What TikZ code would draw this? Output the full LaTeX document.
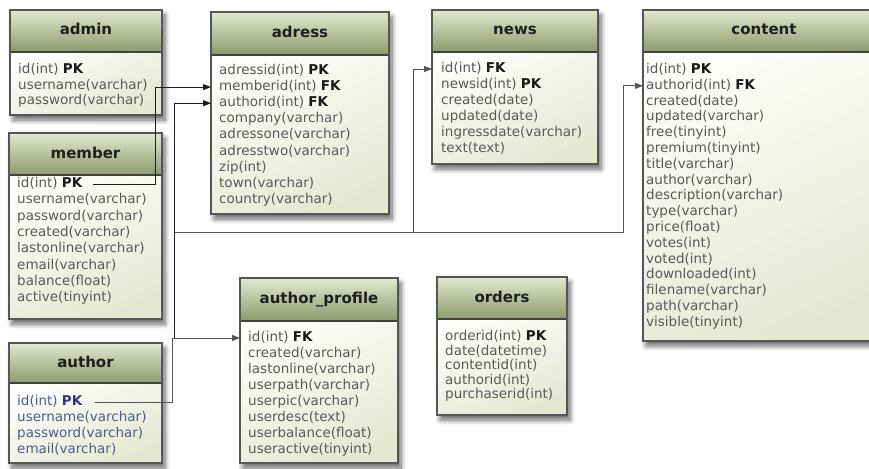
\documentclass[tikz,border=0pt]{standalone}
\usepackage{fontspec}
\setmainfont{DejaVu Sans}
\usetikzlibrary{arrows.meta,shadows.blur,calc}

\definecolor{hdtop}{HTML}{E2E9CF}
\definecolor{hdbot}{HTML}{8C9A6B}
\definecolor{bdtop}{HTML}{FDFDF9}
\definecolor{bdbot}{HTML}{E3E8D0}
\definecolor{framecol}{HTML}{565656}
\definecolor{fieldcol}{HTML}{5A5A5A}
\definecolor{authcol}{HTML}{4E5D8E}
\definecolor{authkey}{HTML}{2A3A7C}
\definecolor{wirecol}{HTML}{1E1E1E}
\definecolor{wiregray}{HTML}{555555}

% bold key markers inside a field line
\newcommand{\keyfield}[1]{\textbf{\color{black!90}#1}}
\newcommand{\authkeyfield}[1]{\textbf{\color{authkey}#1}}

\tikzset{
  tableframe/.style={draw=none, fill=white, inner sep=0pt, outer sep=0pt,
    anchor=north west,
    blur shadow={shadow xshift=3pt, shadow yshift=-5pt, shadow blur radius=5pt,
      shadow blur steps=8, shadow opacity=60}},
  headshade/.style={top color=hdtop, bottom color=hdbot},
  bodyshade/.style={top color=bdtop, bottom color=bdbot, shading angle=25},
  sepline/.style={draw=black!75, line width=1.4pt},
  borderline/.style={draw=framecol, line width=1.1pt},
  titletext/.style={inner sep=0pt, text height=11pt, text depth=3pt,
    font=\bfseries\fontsize{15}{18}\selectfont, text=black!88},
  rowstyle/.style={anchor=west, inner sep=0pt, text height=10pt, text depth=3pt,
    font=\fontsize{13.5}{16}\selectfont},
  wire/.style={draw=wirecol, line width=0.9pt, -{Triangle[length=8pt,width=6pt]}},
  wirelight/.style={draw=wiregray, line width=0.9pt, -{Triangle[length=8pt,width=6pt]}},
}

% table: name, left, top, right, header bottom, bottom, title
\newcommand{\dbtable}[7]{%
  \node[tableframe, minimum width={#4-#2}, minimum height={#6-#3}] (#1) at (#2,-#3) {};
  \fill[headshade] (#2,-#3) rectangle (#4,-#5);
  \fill[bodyshade] (#2,-#5) rectangle (#4,-#6);
  \draw[sepline] (#2,-#5) -- (#4,-#5);
  \draw[borderline] (#1.north west) rectangle (#1.south east);
  \node[titletext] (#1-title) at ({(#2+#4)/2},{-(#3+#5)/2}) {#7};
}

% field lines: name, left, first centre, pitch, colour, fields
\newcommand{\dbrows}[6]{%
  \foreach \rowtext [count=\ri] in {#6}{
    \node[rowstyle, text=#5] (#1-\ri) at ({#2},{-(#3+(\ri-1)*#4)}) {\rowtext};
  }
}

\begin{document}
\begin{tikzpicture}[x=1pt, y=1pt]
\useasboundingbox (0,0) rectangle (869,-468);

\dbtable{admin}{10}{10}{162}{52}{115}{admin}
\dbrows{admin}{18}{70}{15.6}{fieldcol}{id(int) \keyfield{PK}, username(varchar), password(varchar)}

\dbtable{member}{9}{133}{162}{175}{319}{member}
\dbrows{member}{17}{184}{16.3}{fieldcol}{id(int) \keyfield{PK}, username(varchar), password(varchar), created(varchar), lastonline(varchar), email(varchar), balance(float), active(tinyint)}

\dbtable{author}{9}{343}{162}{383}{463}{author}
\dbrows{author}{17}{402}{16}{authcol}{id(int) \authkeyfield{PK}, username(varchar), password(varchar), email(varchar)}

\dbtable{adress}{211}{12}{389}{55}{214}{adress}
\dbrows{adress}{219}{71}{16.1}{fieldcol}{adressid(int) \keyfield{PK}, memberid(int) \keyfield{FK}, authorid(int) \keyfield{FK}, company(varchar), adressone(varchar), adresstwo(varchar), zip(int), town(varchar), country(varchar)}

\dbtable{news}{432}{10}{598}{52}{164}{news}
\dbrows{news}{441}{69}{16}{fieldcol}{id(int) \keyfield{FK}, newsid(int) \keyfield{PK}, created(date), updated(date), ingressdate(varchar), text(text)}

\dbtable{content}{643}{10}{885}{52}{341}{content}
\dbrows{content}{646}{70}{15.8}{fieldcol}{id(int) \keyfield{PK}, authorid(int) \keyfield{FK}, created(date), updated(varchar), free(tinyint), premium(tinyint), title(varchar), author(varchar), description(varchar), type(varchar), price(float), votes(int), voted(int), downloaded(int), filename(varchar), path(varchar), visible(tinyint)}

\dbtable{ap}{240}{278}{398}{321}{463}{author\_profile}
\dbrows{ap}{248}{338}{16}{fieldcol}{id(int) \keyfield{FK}, created(varchar), lastonline(varchar), userpath(varchar), userpic(varchar), userdesc(text), userbalance(float), useractive(tinyint)}

\dbtable{orders}{437}{277}{567}{319}{415}{orders}
\dbrows{orders}{445}{337}{14.5}{fieldcol}{orderid(int) \keyfield{PK}, date(datetime), contentid(int), authorid(int), purchaserid(int)}

% routing columns and the shared bus line
\coordinate (tM) at (155,0);
\coordinate (tA) at (172,0);
\coordinate (tB) at (174.5,0);
\coordinate (tC) at (413,0);
\coordinate (tD) at (623,0);
\coordinate (busY) at (0,-232);

% member.id -> adress.memberid
\draw[wire] ([xshift=10pt]member-1.east) -- (member-1 -| tM) |- (adress.west |- adress-2);

% author.id -> author_profile.id
\draw[wirelight] ([xshift=12pt]author-1.east) -- (author-1 -| tA) |- (ap.west |- ap-1);
% author.id -> adress.authorid
\draw[wire] (tB |- ap-1) |- (adress.west |- adress-3);
% author.id -> news.id
\draw[wirelight] (tB |- busY) -| (tC |- news-1) -- (news.west |- news-1);
% author.id -> content.authorid
\draw[wirelight] (tC |- busY) -| (tD |- content-2) -- (content.west |- content-2);
\end{tikzpicture}
\end{document}
